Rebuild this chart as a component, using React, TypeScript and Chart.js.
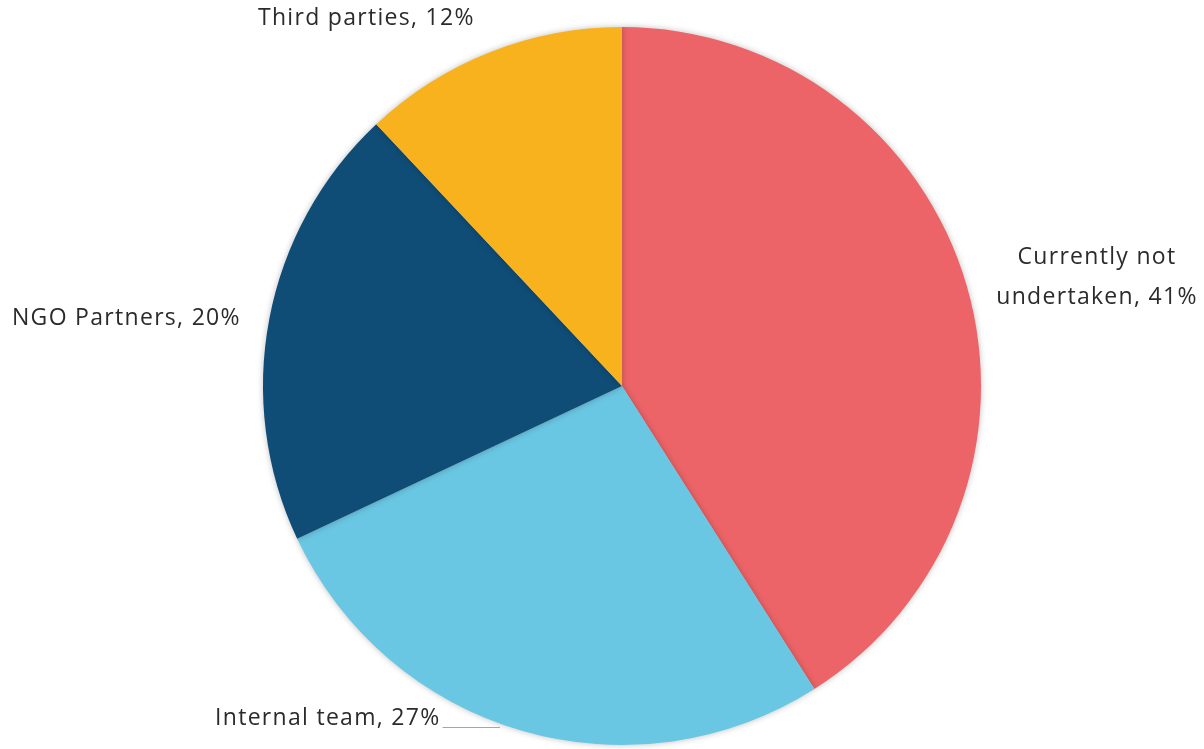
import React, { useEffect, useRef } from "react";
import { Chart, registerables } from "chart.js";

Chart.register(...registerables);

const categories = ["Currently not undertaken", "Internal team", "NGO Partners", "Third parties"];
const values = [41, 27, 20, 12];
const labelLines = [["Currently not", "undertaken, 41%"], ["Internal team, 27%"], ["NGO Partners, 20%"], ["Third parties, 12%"]];
const colors = ["#EC6468", "#6AC7E4", "#0F4D77", "#F8B21E"];

// label anchor positions (x, y of first line center), alignment
const labelPos = [
  { x: 1097, y: 257, align: "center" },
  { x: 215, y: 718, align: "left" },
  { x: 12, y: 318, align: "left" },
  { x: 258, y: 18, align: "left" },
];

const labelPlugin = {
  id: "pieLabels",
  afterDatasetsDraw(chart: any) {
    const ctx = chart.ctx;
    ctx.save();
    ctx.font = '23px "Open Sans", "Noto Sans", sans-serif';
    (ctx as any).letterSpacing = "1.3px";
    ctx.fillStyle = "#2b2b2b";
    ctx.textBaseline = "middle";
    labelLines.forEach((lines, i) => {
      const p = labelPos[i];
      ctx.textAlign = p.align;
      lines.forEach((ln, j) => ctx.fillText(ln, p.x, p.y + j * 40));
    });
    // leader line for Internal team
    const w = ctx.measureText(labelLines[1][0]).width;
    ctx.strokeStyle = "#A6A6A6";
    ctx.lineWidth = 1;
    ctx.beginPath();
    ctx.moveTo(labelPos[1].x + w + 2, 727.5);
    ctx.lineTo(500, 727.5);
    ctx.stroke();
    ctx.restore();
  },
};

const shadowPlugin = {
  id: "pieShadow",
  beforeDatasetsDraw(chart: any) {
    const ctx = chart.ctx;
    ctx.save();
    ctx.shadowColor = "rgba(0,0,0,0.25)";
    ctx.shadowBlur = 6;
  },
  afterDatasetsDraw(chart: any) {
    chart.ctx.restore();
  },
};

export default function App() {
  const ref = useRef<HTMLCanvasElement>(null);
  useEffect(() => {
    document.body.style.margin = "0";
    const chart = new Chart(ref.current!, {
      type: "pie",
      data: {
        labels: categories,
        datasets: [
          {
            data: values,
            backgroundColor: colors,
            borderWidth: 0,
          },
        ],
      },
      options: {
        responsive: false,
        animation: false,
        layout: { padding: { top: 27, bottom: 4, left: 40, right: 0 } },
        plugins: { legend: { display: false }, tooltip: { enabled: false } },
      },
      plugins: [shadowPlugin, labelPlugin],
    });
    return () => chart.destroy();
  }, []);
  return (
    <div style={{ position: "fixed", left: 0, top: 0, width: 1204, height: 749, background: "#fff" }}>
      <canvas ref={ref} width={1204} height={749} />
    </div>
  );
}
